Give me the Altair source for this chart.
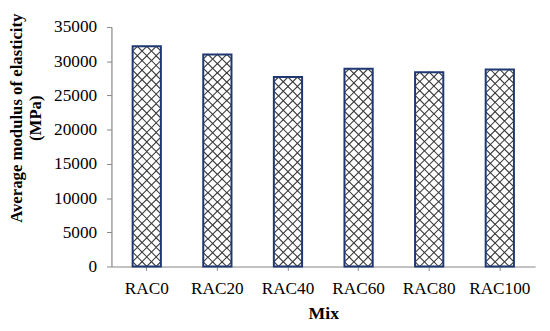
import altair as alt
import pandas as pd

mixes = ["RAC0", "RAC20", "RAC40", "RAC60", "RAC80", "RAC100"]
modulus = [32200, 31000, 27700, 28900, 28400, 28800]
y_ticks = [0, 5000, 10000, 15000, 20000, 25000, 30000, 35000]

W, H = 430, 243
YMAX = 35000
PAD_INNER, PAD_OUTER = 0.6, 0.3

df = pd.DataFrame({"Mix": mixes, "Value": modulus})

# decorative cross-hatch texture (diamond lattice) derived from the bar values
band = W / (len(mixes) - PAD_INNER + 2 * PAD_OUTER)
bar_w = band * (1 - PAD_INNER)
dw = bar_w / 3.0
step0 = dw * YMAX / H
rows = []
for m, v in zip(mixes, modulus):
    n = max(1, round(v / step0))
    st = v / n
    for k in range(n):
        rows.append({"Mix": m, "Value": st / 2 + k * st})
tex = pd.DataFrame(rows)

FONT = "Liberation Serif"
xscale = alt.Scale(domain=mixes, paddingInner=PAD_INNER, paddingOuter=PAD_OUTER)
xaxis = alt.Axis(title="Mix", labelAngle=0, labelFont=FONT, labelFontSize=17.5, labelColor="#000",
                 labelPadding=9, titleFont=FONT, titleFontSize=18, titleFontWeight="bold",
                 titleColor="#000", titlePadding=8, domainColor="#868686", tickColor="#868686",
                 tickSize=4, domainWidth=1.2)
yscale = alt.Scale(domain=[0, YMAX], nice=False)
yaxis = alt.Axis(values=y_ticks, format="d", labelOverlap=False, grid=False, labelFont=FONT,
                 labelFontSize=17.5, labelColor="#000",
                 labelPadding=10, domainColor="#868686", tickColor="#868686", tickSize=5, domainWidth=1.2,
                 title=["Average modulus of elasticity", "(MPa)"], titleFont=FONT, titleFontSize=17,
                 titleFontWeight="bold", titleColor="#000", titleAngle=-90, titleBaseline="top",
                 titleAlign="center", titleX=-104, titleY=92, titleLineHeight=19)

X = alt.X("Mix:N", sort=mixes, scale=xscale, axis=xaxis)
Y = alt.Y("Value:Q", scale=yscale, axis=yaxis)

bars_fill = alt.Chart(df).mark_bar(fill="white", stroke=None).encode(x=X, y=Y)

layers = [bars_fill]
for off in [-dw, 0, dw]:
    layers.append(alt.Chart(tex).mark_point(shape="diamond", filled=False, size=dw * dw,
                                            stroke="#3a3a3a", strokeWidth=1.1, opacity=1,
                                            xOffset=off).encode(x=X, y=Y))

bars_outline = alt.Chart(df).mark_bar(fill=None, stroke="#1F3772", strokeWidth=2).encode(x=X, y=Y)
layers.append(bars_outline)

chart = alt.layer(*layers).properties(
    width=W, height=H,
    autosize=alt.AutoSizeParams(type="none"),
    padding={"left": 105, "top": 17, "right": 7, "bottom": 55},
).configure(background="white").configure_view(stroke=None)

chart.save("out.html", embed_options={"renderer": "svg", "actions": False})
